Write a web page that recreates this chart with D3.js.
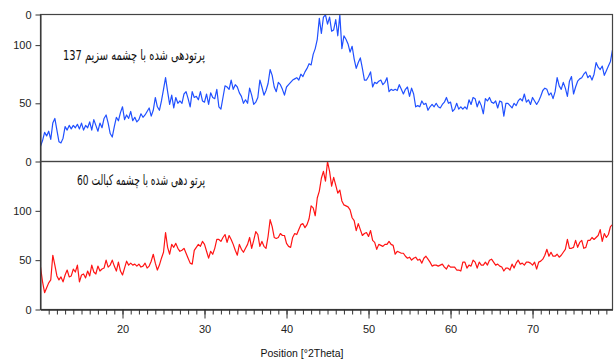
<!DOCTYPE html>
<html>
<head>
<meta charset="utf-8">
<script src="https://cdn.jsdelivr.net/npm/d3@7"></script>
<style>
  body { margin: 0; background: #fff; }
  .axis text { font-family: "Liberation Sans", Arial, sans-serif; font-size: 11px; fill: #222; }
  .axis path, .axis line { stroke: #333; }
  .frame { fill: none; stroke: #444; stroke-width: 1.2; }
  .line { fill: none; stroke-width: 1.2; stroke-linejoin: round; }
  .note { font-family: "DejaVu Sans Condensed", "DejaVu Sans", sans-serif; font-size: 14.5px; fill: #111; }
</style>
</head>
<body>
<div id="chart"></div>
<script>
// scan grid, °2Theta
var startPos = 10, stepPos = 0.25;

// counts, one value per 0.25 deg from 10 to 79.75
var cesiumCounts = [
  13, 18, 25, 22,  26, 19, 33, 37,  27, 17, 16, 20,  30, 27, 31, 28,
  31, 29, 32, 28,  33, 27, 31, 29,  34, 27, 36, 31,  26, 33, 29, 37,
  40, 33, 24, 21,  30, 38, 35, 42,  47, 36, 40, 37,  43, 35, 38, 34,
  36, 41, 38, 40,  43, 46, 39, 44,  55, 47, 44, 52,  62, 72, 60, 49,
  57, 46, 55, 50,  52, 50, 58, 60,  54, 47, 60, 55,  56, 53, 60, 52,
  51, 58, 49, 59,  55, 54, 62, 47,  45, 55, 65, 64,  62, 70, 62, 66,
  64, 59, 56, 50,  53, 50, 63, 57,  49, 51, 55, 70,  64, 57, 61, 67,
  79, 74, 64, 60,  68, 66, 62, 57,  64, 66, 68, 70,  71, 72, 70, 75,
  73, 77, 80, 84,  83, 92, 97, 105, 123, 110, 124, 126, 118, 124, 112, 113,
  122, 108, 126, 97, 108, 105, 101, 94, 99, 88, 80, 85, 89, 80, 70, 70,
  73, 77, 64, 68,  67, 69, 70, 66,  68, 72, 60, 62,  61, 62, 61, 66,
  62, 58, 62, 64,  56, 63, 58, 47,  48, 47, 52, 49,  50, 44, 47, 49,
  47, 50, 47, 46,  49, 51, 55, 50,  51, 43, 45, 50,  45, 47, 45, 47,
  45, 53, 49, 55,  54, 47, 52, 48,  41, 54, 52, 55,  51, 50, 52, 46,
  52, 51, 39, 50,  50, 48, 46, 50,  48, 52, 54, 52,  58, 51, 53, 49,
  55, 52, 49, 52,  56, 61, 63, 62,  57, 59, 54, 60,  72, 65, 62, 68,
  63, 56, 69, 73,  58, 64, 69, 71,  72, 75, 77, 72,  74, 70, 75, 85,
  81, 79, 82, 74,  78, 82, 86, 96
];

var cobaltCounts = [
  43, 28, 17, 22,  27, 30, 55, 45,  34, 30, 33, 28,  35, 40, 33, 34,
  41, 38, 45, 28,  35, 36, 32, 39,  34, 45, 38, 36,  44, 39, 41, 42,
  50, 43, 45, 50,  44, 39, 48, 39,  35, 42, 49, 45,  47, 45, 46, 44,
  46, 43, 44, 47,  42, 44, 49, 56,  47, 40, 45, 52,  58, 78, 63, 56,
  66, 63, 67, 62,  59, 60, 62, 57,  52, 47, 46, 60,  63, 66, 64, 69,
  66, 59, 52, 59,  56, 62, 71, 71,  69, 73, 76, 68,  75, 71, 66, 60,
  55, 66, 61, 58,  62, 66, 73, 62,  70, 79, 76, 64,  69, 64, 62, 74,
  91, 84, 73, 72,  73, 77, 75, 75,  67, 64, 63, 73,  77, 76, 81, 86,
  87, 83, 86, 92,  105, 103, 95, 113, 120, 133, 140, 130, 150, 140, 125, 134,
  126, 118, 121, 110, 106, 105, 104, 101, 93, 90, 80, 87, 81, 75, 77, 78,
  74, 80, 70, 68,  61, 66, 65, 64,  66, 66, 69, 66,  65, 56, 59, 58,
  57, 57, 54, 52,  53, 50, 52, 53,  50, 51, 47, 52,  54, 51, 48, 44,
  45, 45, 44, 45,  46, 43, 41, 45,  43, 43, 43, 40,  40, 39, 48, 48,
  42, 45, 44, 50,  48, 42, 48, 45,  45, 48, 45, 50,  51, 48, 45, 46,
  44, 43, 39, 42,  42, 40, 46, 42,  47, 50, 46, 47,  45, 48, 48, 47,
  45, 48, 41, 48,  49, 51, 55, 61,  54, 58, 54, 54,  56, 53, 55, 58,
  61, 71, 62, 62,  63, 70, 63, 68,  70, 62, 63, 70,  70, 73, 71, 73,
  75, 81, 69, 77,  73, 76, 84, 86
];

var cesiumLabel = "پرتودهی شده با چشمه سزیم 137";
var cobaltLabel = "پرتو دهی شده با چشمه کبالت 60";
var xMajorTicks = [20, 30, 40, 50, 60, 70];
var yTicks = [0, 50, 100];
var xTitle = "Position [°2Theta]";

// set the dimensions of the two stacked panels
var width = 615, height = 363;
var left = 40.5, right = 612.5;
var topPanel = { top: 14.5, bottom: 161.5, max: 126.3 };
var botPanel = { top: 161.5, bottom: 309.5, max: 150 };

var x = d3.scaleLinear().domain([10, 79.75]).range([left, right]);

var svg = d3.select("#chart").append("svg")
    .attr("width", width)
    .attr("height", height);

function drawPanel(p, counts, colour, label, labelY, labelW, id, topTick) {
  var y = d3.scaleLinear().domain([0, p.max]).range([p.bottom, p.top]);

  var data = counts.map(function(d, i) { return { pos: startPos + i * stepPos, value: d }; });

  svg.append("clipPath").attr("id", id)
    .append("rect")
      .attr("x", left).attr("y", p.top)
      .attr("width", right - left).attr("height", p.bottom - p.top);

  var valueline = d3.line()
      .x(function(d) { return x(d.pos); })
      .y(function(d) { return y(d.value); });

  svg.append("path")
      .datum(data)
      .attr("class", "line")
      .attr("clip-path", "url(#" + id + ")")
      .attr("stroke", colour)
      .attr("d", valueline);

  svg.append("rect")
      .attr("class", "frame")
      .attr("x", left).attr("y", p.top)
      .attr("width", right - left).attr("height", p.bottom - p.top);

  // y axis, the panel top carries a "0" label like the original plot
  var ticks = topTick ? yTicks.concat([p.max]) : yTicks;
  svg.append("g")
      .attr("class", "axis")
      .attr("transform", "translate(" + left + ",0)")
      .call(d3.axisLeft(y)
        .tickValues(ticks)
        .tickFormat(function(d) { return d === p.max ? "0" : d; })
        .tickSize(5).tickPadding(4).tickSizeOuter(0));

  svg.append("text")
      .attr("class", "note")
      .attr("x", 205)
      .attr("y", labelY)
      .attr("text-anchor", "end")
      .attr("textLength", labelW)
      .attr("lengthAdjust", "spacingAndGlyphs")
      .text(label);
}

drawPanel(topPanel, cesiumCounts, "#2050ff", cesiumLabel, 60, 142, "clipTop", true);
drawPanel(botPanel, cobaltCounts, "#ff1414", cobaltLabel, 185, 128, "clipBot", false);

// minor ticks every degree
svg.append("g")
    .attr("class", "axis")
    .attr("transform", "translate(0," + botPanel.bottom + ")")
    .call(d3.axisBottom(x).tickValues(d3.range(11, 80)).tickSize(5).tickFormat("").tickSizeOuter(0));

// major ticks and labels
svg.append("g")
    .attr("class", "axis")
    .attr("transform", "translate(0," + botPanel.bottom + ")")
    .call(d3.axisBottom(x).tickValues(xMajorTicks).tickSize(9).tickPadding(7).tickSizeOuter(0));

svg.append("text")
    .attr("x", 302)
    .attr("y", 357)
    .attr("text-anchor", "middle")
    .style("font-family", "'Liberation Sans', Arial, sans-serif")
    .style("font-size", "10.5px")
    .style("fill", "#111")
    .text(xTitle);
</script>
</body>
</html>
